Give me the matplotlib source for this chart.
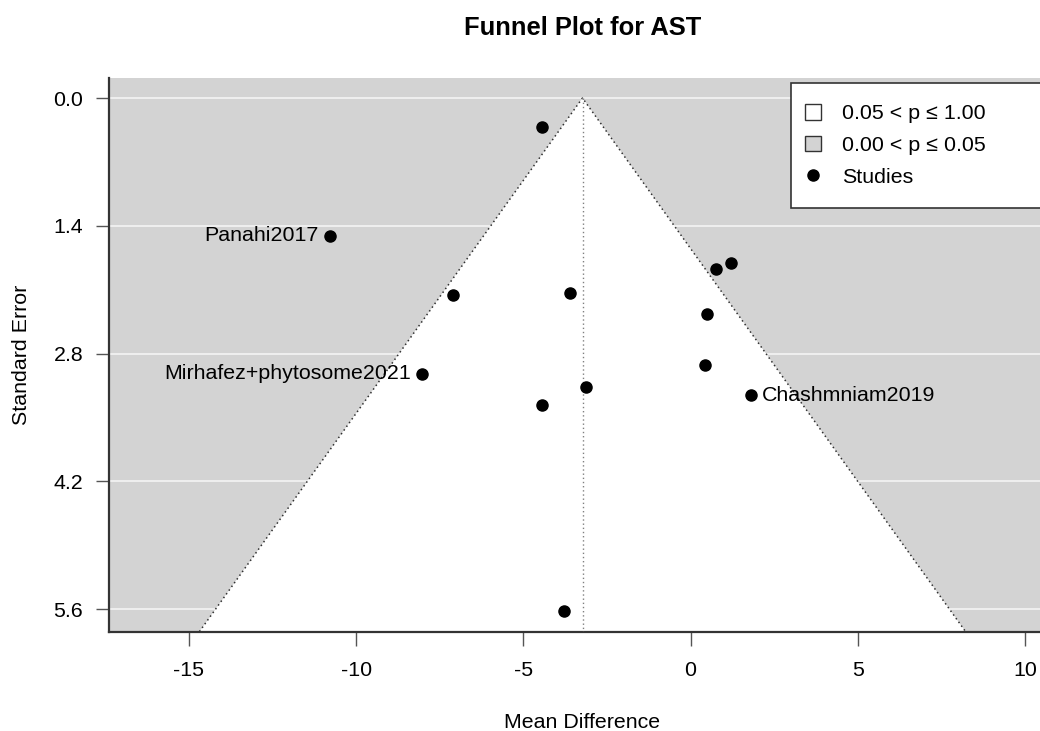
import numpy as np
import matplotlib
matplotlib.use("Agg")
import matplotlib.pyplot as plt
from matplotlib.patches import Patch, Polygon, Rectangle
from matplotlib.lines import Line2D

plt.rcParams["font.family"] = ["Liberation Sans", "DejaVu Sans"]
plt.rcParams["axes.unicode_minus"] = False

# study effects (mean difference) and their standard errors
md = [-4.44, -10.79, -7.09, -3.60, 0.75, 1.22, 0.50, 0.42, -8.04, -3.13, -4.45, 1.80, -3.77]
se = [0.315, 1.510, 2.158, 2.140, 1.877, 1.805, 2.370, 2.928, 3.020, 3.163, 3.360, 3.254, 5.620]
study = ["", "Panahi2017", "", "", "", "", "", "", "Mirhafez+phytosome2021", "", "", "Chashmniam2019", ""]
label_side = ["", "left", "", "", "", "", "", "", "left", "", "", "right", ""]

est = -3.23
xticks = [-15, -10, -5, 0, 5, 10]
yticks = [0.0, 1.4, 2.8, 4.2, 5.6]

W, H = 1040, 731
fig = plt.figure(figsize=(W / 100, H / 100), dpi=100)
# plot region runs a bit past the right edge of the image
left, right, top, bottom = 109, 1056, 77.5, 631.6
ax = fig.add_axes([left / W, 1 - bottom / H, (right - left) / W, (bottom - top) / H])

se_max = max(se)
ylo, yhi = -0.04 * se_max, 1.04 * se_max
ax.set_xlim(-17.39, 10.93)
ax.set_ylim(yhi, ylo)

ax.set_facecolor("#d3d3d3")
for t in yticks:
    ax.axhline(t, color="#f4f4f4", lw=1.2, zorder=1)

# pseudo confidence region est +/- 1.96*se
funnel = Polygon([(est - 1.96 * yhi, yhi), (est, 0), (est + 1.96 * yhi, yhi)],
                 closed=True, facecolor="white", edgecolor="none", zorder=2)
ax.add_patch(funnel)
ax.plot([est - 1.96 * yhi, est, est + 1.96 * yhi], [yhi, 0, yhi],
        color="#303030", lw=1.1, ls=(0, (1, 2)), zorder=3)
ax.plot([est, est], [0, yhi], color="#808080", lw=1.0, ls=(0, (1, 2)), zorder=3)

ax.plot(md, se, "o", color="black", ms=8, zorder=4)
for x, y, name, side in zip(md, se, study, label_side):
    if not name:
        continue
    off = -8 if side == "left" else 8
    ax.annotate(name, (x, y), xytext=(off, 0), textcoords="offset points",
                ha="right" if side == "left" else "left", va="center", fontsize=15.4, zorder=5)

ax.set_xticks(xticks)
ax.set_yticks(yticks)
ax.set_yticklabels([f"{t:.1f}" for t in yticks])
ax.tick_params(axis="x", length=10, width=1, color="#555555", pad=11, labelsize=15.4)
ax.tick_params(axis="y", length=9.5, width=1, color="#555555", pad=9, labelsize=15.4)
for s in ["top", "right"]:
    ax.spines[s].set_visible(False)
for s in ["left", "bottom"]:
    ax.spines[s].set_color("#333333")
    ax.spines[s].set_linewidth(1.6)

# legend: frame drawn by hand so it can run off the right edge
fig.patches.append(Rectangle((791 / W, 1 - 208 / H), 320 / W, 125 / H, transform=fig.transFigure,
                             facecolor="white", edgecolor="#333333", lw=1.2, zorder=5))
handles = [
    Patch(facecolor="white", edgecolor="#333333", lw=1),
    Patch(facecolor="#d3d3d3", edgecolor="#333333", lw=1),
    Line2D([], [], marker="o", ls="none", color="black", ms=8),
]
labels = ["0.05 < p \u2264 1.00", "0.00 < p \u2264 0.05", "Studies"]
leg = fig.legend(handles, labels, loc="upper left", bbox_to_anchor=(805 / W, 1 - 104 / H),
                 borderaxespad=0, borderpad=0, fontsize=15.4, frameon=False,
                 handlelength=0.75, handleheight=0.75, handletextpad=1.0,
                 labelspacing=0.58)
leg.set_zorder(6)

fig.text((left + right) / 2 / W, 1 - 28 / H, "Funnel Plot for AST", ha="center", va="center",
         fontsize=18.4, fontweight="bold")
fig.text((left + right) / 2 / W, 1 - 723 / H, "Mean Difference", ha="center", va="center", fontsize=15.4)
fig.text(22 / W, 1 - (top + bottom) / 2 / H, "Standard Error", ha="center", va="center",
         rotation=90, fontsize=15.4)

fig.savefig("out.png", dpi=100)
